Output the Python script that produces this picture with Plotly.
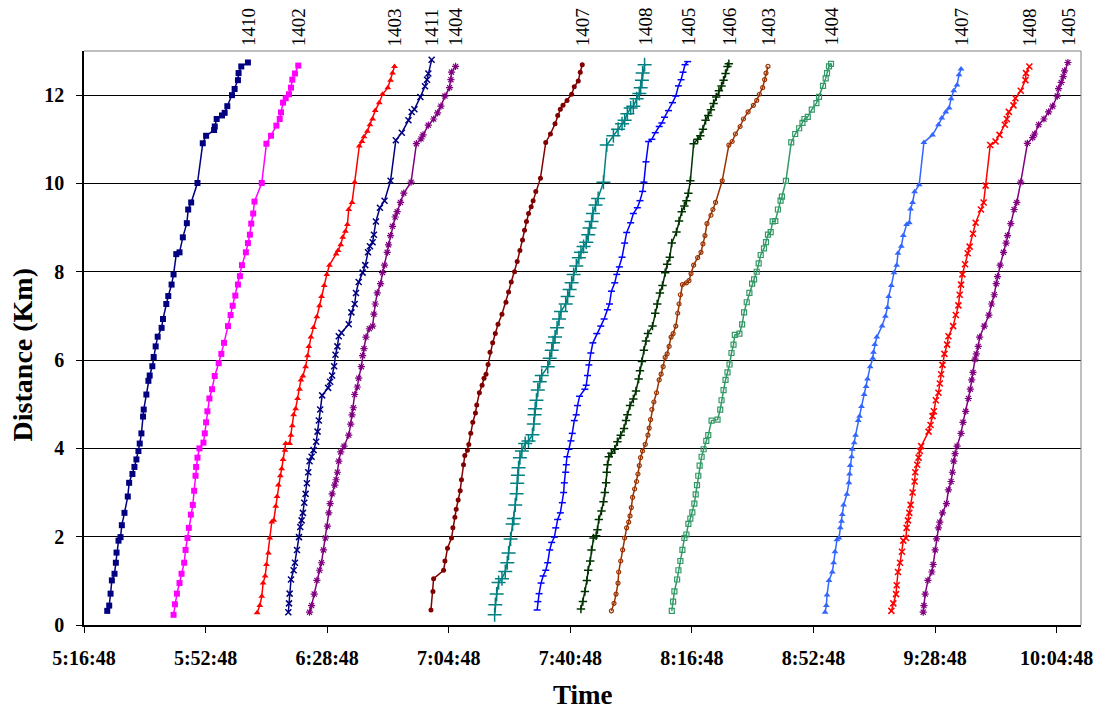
import datetime as dt
import plotly.graph_objects as go

# ---------------- data ----------------
tick_labels = ["5:16:48", "5:52:48", "6:28:48", "7:04:48", "7:40:48",
               "8:16:48", "8:52:48", "9:28:48", "10:04:48"]
x_range = ["5:16:48", "10:12:00"]

train_labels = ["1410", "1402", "1403", "1411", "1404", "1407", "1408",
                "1405", "1406", "1403", "1404", "1407", "1408", "1405"]

t_1410 = ["5:23:41","5:24:16","5:24:40","5:25:03","5:25:50","5:26:14","5:26:26","5:27:01","5:27:37","5:28:00",
          "5:28:47","5:29:46","5:30:10","5:31:08","5:31:44","5:32:19","5:32:55","5:33:18","5:33:48","5:34:17",
          "5:34:29","5:35:16","5:35:52","5:36:15","5:37:02","5:37:26","5:38:01","5:38:37","5:39:47","5:40:11",
          "5:41:10","5:41:45","5:42:44","5:43:19","5:44:07","5:45:05","5:46:04","5:47:15","5:47:39","5:48:32",
          "5:50:24","5:51:58","5:52:57","5:55:19","5:55:31","5:56:05","5:57:40","5:58:27","5:59:14","6:00:37",
          "6:01:24","6:02:23","6:02:34","6:03:22","6:05:20"]
d_1410 = [0.32,0.44,0.71,1.01,1.16,1.41,1.64,1.91,1.99,2.26,2.54,2.91,3.22,3.42,3.58,3.75,3.94,4.11,4.34,4.72,
          4.88,5.22,5.53,5.65,5.86,6.07,6.31,6.53,6.73,6.93,7.27,7.45,7.71,7.94,8.40,8.44,8.78,9.10,9.41,9.57,
          10.01,10.91,11.08,11.21,11.29,11.46,11.54,11.60,11.75,12.00,12.14,12.34,12.50,12.65,12.74]

t_1402 = ["5:43:19","5:43:43","5:44:19","5:45:05","5:45:41","5:46:28","5:46:52","5:47:27","5:47:50","5:48:26",
          "5:49:01","5:49:25","5:49:49","5:50:00","5:50:24","5:50:59","5:52:10","5:52:34","5:52:57","5:53:20",
          "5:53:56","5:54:43","5:55:30","5:56:41","5:57:28","5:58:16","5:59:26","6:00:13","6:00:49","6:01:36",
          "6:02:23","6:02:58","6:03:34","6:04:44","6:05:20","6:05:55","6:06:19","6:06:54","6:07:17","6:09:26",
          "6:10:49","6:12:11","6:13:46","6:14:45","6:15:08","6:15:44","6:16:31","6:17:30","6:18:05","6:18:29",
          "6:19:16","6:20:15"]
d_1402 = [0.23,0.47,0.71,0.95,1.16,1.41,1.70,1.97,2.20,2.50,2.72,3.04,3.38,3.58,3.79,4.00,4.13,4.34,4.59,4.84,
          5.13,5.34,5.64,5.93,6.14,6.39,6.77,7.02,7.23,7.46,7.71,7.90,8.15,8.44,8.65,8.84,9.09,9.32,9.59,10.01,
          10.90,11.08,11.31,11.46,11.61,11.83,11.93,12.02,12.17,12.35,12.49,12.67]

t_1403a = ["6:08:04","6:08:51","6:09:26","6:09:50","6:10:26","6:10:49","6:11:25","6:11:48","6:12:23","6:12:59",
           "6:13:34","6:13:58","6:14:21","6:14:56","6:15:20","6:15:44","6:16:19","6:16:31","6:17:41","6:18:05",
           "6:18:29","6:18:52","6:19:28","6:20:03","6:20:38","6:21:02","6:21:37","6:22:25","6:23:00","6:23:23",
           "6:23:59","6:24:46","6:25:45","6:26:32","6:27:08","6:27:55","6:28:42","6:29:29","6:31:27","6:32:02",
           "6:32:49","6:33:25","6:34:12","6:34:47","6:35:11","6:36:10","6:36:57","6:38:19","6:39:07","6:39:42",
           "6:40:41","6:41:28","6:42:15","6:43:02","6:44:13","6:45:12","6:46:46","6:47:34","6:48:09","6:48:44"]
d_1403a = [0.28,0.44,0.65,0.95,1.11,1.37,1.63,1.97,2.33,2.37,2.69,2.91,3.17,3.38,3.54,3.75,3.96,4.11,4.11,4.30,
           4.51,4.76,4.90,5.13,5.34,5.55,5.64,5.85,6.10,6.31,6.52,6.74,6.98,7.23,7.44,7.69,7.94,8.15,8.40,8.48,
           8.61,8.78,8.92,9.07,9.41,9.57,10.03,10.85,10.95,11.06,11.18,11.33,11.46,11.65,11.83,12.02,12.17,12.34,12.50,12.65]

t_1411 = ["6:17:18","6:17:30","6:17:41","6:18:05","6:18:52","6:19:16","6:19:52","6:20:27","6:20:50","6:21:14",
          "6:21:37","6:22:01","6:22:25","6:22:48","6:23:12","6:23:35","6:24:11","6:24:46","6:25:33","6:25:57",
          "6:26:20","6:26:44","6:27:19","6:29:05","6:29:41","6:30:16","6:30:52","6:31:15","6:31:50","6:32:14",
          "6:33:01","6:35:11","6:35:58","6:36:57","6:37:20","6:38:08","6:39:18","6:40:05","6:40:53","6:41:28",
          "6:42:15","6:42:38","6:43:14","6:44:25","6:45:47","6:47:34","6:49:08","6:50:54","6:52:52","6:53:50",
          "6:54:38","6:56:24","6:57:46","6:58:22","6:58:45","6:59:44"]
d_1411 = [0.29,0.49,0.71,1.03,1.24,1.41,1.70,1.99,2.22,2.37,2.54,2.77,2.97,3.21,3.46,3.71,3.81,3.96,4.15,4.38,
          4.63,4.88,5.20,5.37,5.51,5.65,5.86,6.12,6.31,6.54,6.62,6.81,7.08,7.27,7.52,7.77,7.98,8.15,8.44,8.58,
          8.67,8.84,9.14,9.45,9.61,10.06,10.98,11.15,11.43,11.62,11.68,11.96,12.20,12.35,12.49,12.80]

t_1404a = ["6:23:35","6:24:11","6:24:58","6:25:45","6:26:32","6:27:07","6:27:43","6:28:18","6:28:53","6:29:17",
           "6:29:41","6:30:16","6:31:03","6:31:27","6:31:50","6:32:14","6:32:49","6:33:48","6:35:11","6:35:46",
           "6:36:10","6:36:33","6:36:57","6:37:44","6:38:08","6:38:55","6:39:18","6:39:42","6:40:17","6:41:16",
           "6:42:15","6:42:38","6:43:02","6:43:38","6:44:37","6:45:12","6:45:47","6:46:35","6:46:58","6:47:34",
           "6:48:09","6:48:56","6:49:31","6:50:30","6:51:29","6:53:39","6:55:13","6:56:35","6:57:11","6:58:45",
           "7:00:20","7:01:30","7:02:29","7:03:40","7:05:02","7:05:26","7:05:38","7:06:49"]
d_1404a = [0.29,0.44,0.70,1.01,1.24,1.41,1.70,1.97,2.24,2.54,2.75,2.97,3.17,3.29,3.46,3.71,3.92,4.05,4.30,4.55,
           4.76,4.92,5.22,5.39,5.59,5.85,6.10,6.26,6.52,6.71,6.77,7.04,7.27,7.52,7.73,7.98,8.15,8.44,8.61,8.82,
           9.03,9.24,9.36,9.57,9.78,10.03,10.90,11.01,11.10,11.32,11.46,11.60,11.75,11.98,12.17,12.35,12.52,12.65]

t_1407a = ["6:59:32","7:00:07","7:00:19","7:03:16","7:03:40","7:04:26","7:05:37","7:06:01","7:06:37","7:07:00",
           "7:07:35","7:08:11","7:08:34","7:09:10","7:09:33","7:10:20","7:10:44","7:11:19","7:11:55","7:12:42",
           "7:13:05","7:13:52","7:14:40","7:15:15","7:15:50","7:16:26","7:17:01","7:17:48","7:18:35","7:19:23",
           "7:20:33","7:21:44","7:22:31","7:23:18","7:24:17","7:25:04","7:25:52","7:26:38","7:27:14","7:27:49",
           "7:28:25","7:29:12","7:29:47","7:30:34","7:31:57","7:33:31","7:34:54","7:36:16","7:37:04","7:37:50",
           "7:38:38","7:39:49","7:41:11","7:41:58","7:43:09","7:43:44","7:44:20"]
d_1407a = [0.34,0.76,1.05,1.24,1.45,1.74,1.97,2.20,2.44,2.62,2.83,3.04,3.29,3.63,3.84,3.96,4.09,4.34,4.59,4.80,
           4.98,5.26,5.43,5.59,5.68,5.90,6.18,6.39,6.60,6.81,7.04,7.31,7.54,7.77,8.00,8.23,8.48,8.72,8.94,9.14,
           9.32,9.47,9.61,9.82,10.12,10.93,11.12,11.35,11.54,11.68,11.77,11.88,12.02,12.19,12.32,12.52,12.69]

t_1408a = ["7:18:23","7:18:35","7:18:59","7:19:34","7:20:33","7:21:32","7:22:08","7:22:31","7:23:07","7:23:42",
           "7:24:05","7:24:29","7:24:53","7:25:04","7:25:16","7:25:28","7:25:52","7:26:27","7:27:26","7:28:25",
           "7:29:35","7:29:59","7:30:11","7:30:23","7:30:46","7:31:10","7:31:45","7:32:20","7:34:07","7:34:42",
           "7:35:17","7:35:41","7:36:16","7:36:52","7:37:27","7:38:02","7:39:25","7:40:00","7:40:35","7:41:11",
           "7:41:46","7:42:34","7:43:20","7:43:56","7:44:43","7:45:31","7:46:06","7:46:29","7:47:05","7:47:28",
           "7:48:16","7:49:02","7:50:36","7:51:35","7:53:33","7:54:56","7:56:07","7:56:53","7:57:41","7:58:40",
           "7:59:27","8:00:26","8:01:13","8:01:37","8:02:00","8:02:12","8:02:47"]
d_1408a = [0.23,0.46,0.70,0.96,1.05,1.21,1.41,1.63,1.95,2.29,2.41,2.72,2.97,3.21,3.39,3.56,3.79,3.94,4.11,4.17,
           4.31,4.55,4.76,4.90,5.09,5.32,5.51,5.65,5.85,6.04,6.22,6.39,6.52,6.73,6.93,7.10,7.27,7.44,7.60,7.75,
           7.94,8.13,8.32,8.44,8.57,8.67,8.84,8.99,9.14,9.32,9.51,9.66,10.03,10.87,11.08,11.23,11.35,11.43,11.58,11.71,
           11.75,11.92,12.04,12.17,12.34,12.50,12.69]

t_1405a = ["7:30:58","7:31:10","7:31:33","7:32:08","7:32:44","7:33:31","7:34:06","7:34:41","7:35:17","7:36:04",
           "7:36:28","7:37:03","7:37:50","7:38:26","7:38:49","7:39:01","7:39:25","7:39:36","7:39:48","7:40:23",
           "7:40:59","7:41:22","7:41:58","7:42:33","7:42:56","7:43:32","7:45:06","7:45:30","7:45:53","7:46:17",
           "7:46:52","7:47:28","7:48:38","7:49:49","7:50:48","7:51:47","7:52:23","7:52:58","7:53:57","7:54:32",
           "7:55:19","7:56:07","7:56:53","7:57:29","7:58:40","7:59:27","8:00:38","8:01:25","8:02:12","8:02:35",
           "8:03:11","8:03:58","8:04:57","8:05:56","8:07:07","8:07:54","8:08:41","8:09:52","8:11:02","8:12:01",
           "8:12:48","8:13:35","8:14:10","8:14:46","8:15:33"]
d_1405a = [0.34,0.53,0.71,0.95,1.11,1.24,1.41,1.70,1.87,1.99,2.20,2.39,2.54,2.77,3.00,3.22,3.46,3.63,3.81,3.98,
           4.17,4.34,4.63,4.76,4.97,5.18,5.34,5.43,5.65,5.89,6.16,6.39,6.60,6.77,6.93,7.14,7.27,7.56,7.75,7.94,
           8.11,8.33,8.65,8.89,9.11,9.32,9.45,9.61,9.82,10.03,10.49,10.95,11.00,11.15,11.29,11.37,11.50,11.65,11.83,11.98,
           12.21,12.35,12.52,12.69,12.76]

t_1406 = ["7:43:56","7:44:31","7:45:07","7:45:42","7:46:05","7:46:41","7:47:04","7:47:40","7:48:27","7:48:50",
          "7:49:14","7:50:01","7:50:37","7:51:00","7:51:23","7:51:35","7:51:47","7:52:11","7:52:58","7:53:57",
          "7:54:44","7:55:43","7:56:42","7:57:17","7:57:41","7:58:28","7:59:27","8:00:14","8:01:01","8:01:25",
          "8:02:00","8:02:35","8:03:11","8:03:46","8:05:08","8:05:56","8:06:31","8:07:19","8:08:05","8:08:53",
          "8:09:28","8:10:15","8:10:50","8:12:13","8:12:59","8:13:47","8:14:34","8:15:10","8:15:45","8:16:20",
          "8:17:19","8:18:30","8:19:17","8:20:04","8:20:51","8:21:38","8:22:25","8:23:13","8:24:00","8:24:47",
          "8:25:34","8:26:10","8:26:45","8:27:20","8:27:44"]
d_1406 = [0.36,0.53,0.76,1.01,1.24,1.45,1.70,1.97,2.02,2.16,2.39,2.58,2.79,3.00,3.22,3.46,3.63,3.81,3.89,3.98,
          4.15,4.30,4.45,4.63,4.76,4.97,5.12,5.30,5.57,5.76,5.97,6.22,6.43,6.60,6.77,7.06,7.27,7.52,7.69,7.98,
          8.17,8.33,8.65,8.90,9.15,9.36,9.49,9.61,9.78,10.06,10.90,11.00,11.08,11.23,11.43,11.54,11.67,11.81,11.96,12.10,
          12.21,12.34,12.49,12.65,12.71]

t_1403b = ["7:52:58","7:53:44","7:54:20","7:54:55","7:55:07","7:55:43","7:56:18","7:56:53","7:57:28","7:58:04",
           "7:58:28","7:58:51","7:59:14","7:59:50","8:00:25","8:00:49","8:01:13","8:01:36","8:02:11","8:02:59",
           "8:03:46","8:04:09","8:04:33","8:04:56","8:05:32","8:06:19","8:07:06","8:07:41","8:08:17","8:08:52",
           "8:09:28","8:10:03","8:10:38","8:11:14","8:12:01","8:12:36","8:12:59","8:13:23","8:13:59","8:15:10",
           "8:15:56","8:16:32","8:17:19","8:18:30","8:19:29","8:20:04","8:20:40","8:21:15","8:22:26","8:23:01",
           "8:23:48","8:25:46","8:27:44","8:28:43","8:29:41","8:31:04","8:32:03","8:33:26","8:35:00","8:35:59",
           "8:36:46","8:37:45","8:38:20","8:38:44","8:39:19"]
d_1403b = [0.32,0.49,0.70,0.95,1.20,1.45,1.70,1.97,2.20,2.33,2.47,2.66,2.89,3.08,3.25,3.42,3.61,3.79,3.94,4.09,
           4.30,4.46,4.65,4.88,5.05,5.26,5.55,5.68,5.85,6.06,6.14,6.31,6.52,6.60,6.77,7.06,7.27,7.48,7.71,7.75,
           7.80,7.96,8.15,8.32,8.44,8.63,8.82,9.09,9.28,9.41,9.57,10.06,10.87,10.95,11.12,11.29,11.46,11.62,11.77,11.88,
           12.02,12.17,12.35,12.50,12.65]

t_1404b = ["8:10:50","8:11:14","8:11:37","8:12:25","8:12:48","8:13:23","8:13:59","8:14:34","8:15:10","8:15:45",
           "8:16:20","8:16:55","8:17:31","8:17:55","8:18:18","8:18:41","8:19:05","8:19:40","8:20:16","8:21:03",
           "8:21:38","8:22:37","8:24:23","8:25:11","8:25:34","8:26:10","8:26:45","8:27:20","8:27:56","8:28:31",
           "8:29:07","8:29:30","8:30:52","8:31:40","8:32:15","8:33:02","8:33:49","8:34:37","8:35:12","8:35:59",
           "8:36:34","8:37:10","8:38:08","8:38:44","8:39:19","8:40:07","8:40:42","8:41:29","8:42:16","8:43:03",
           "8:43:27","8:44:38","8:46:12","8:47:23","8:48:33","8:49:32","8:50:07","8:51:06","8:52:17","8:53:39",
           "8:54:26","8:55:37","8:56:24","8:56:48","8:57:23","8:57:59"]
d_1404b = [0.32,0.53,0.76,1.03,1.24,1.45,1.70,1.97,2.05,2.29,2.41,2.55,2.75,2.96,3.17,3.38,3.61,3.81,3.98,4.17,
           4.30,4.63,4.65,4.88,5.09,5.32,5.55,5.72,5.90,6.16,6.35,6.57,6.60,6.81,7.08,7.31,7.52,7.73,7.83,8.00,
           8.19,8.38,8.53,8.67,8.84,8.90,9.14,9.15,9.41,9.61,9.70,10.06,10.93,11.12,11.25,11.37,11.46,11.51,11.67,11.82,
           11.96,12.21,12.38,12.50,12.65,12.71]

t_1407b = ["8:56:13","8:56:36","8:56:48","8:57:23","8:58:22","8:58:46","8:59:09","8:59:44","9:00:20","9:00:44",
           "9:01:07","9:01:19","9:01:43","9:02:41","9:03:17","9:03:29","9:03:40","9:04:04","9:04:16","9:04:51",
           "9:05:15","9:06:02","9:06:25","9:07:01","9:07:48","9:08:23","9:08:47","9:09:34","9:10:21","9:10:33",
           "9:10:56","9:11:32","9:13:06","9:14:05","9:14:41","9:15:04","9:15:51","9:16:38","9:17:26","9:17:49",
           "9:18:48","9:19:23","9:20:22","9:21:10","9:21:33","9:22:08","9:22:44","9:24:06","9:25:29","9:28:02",
           "9:29:48","9:30:47","9:31:58","9:32:57","9:33:32","9:34:19","9:35:18","9:35:53","9:36:29"]
d_1407b = [0.29,0.44,0.68,1.01,1.20,1.41,1.66,1.93,1.97,2.20,2.35,2.50,2.72,2.96,3.22,3.42,3.61,3.81,3.98,4.13,
           4.30,4.63,4.73,4.95,5.22,5.40,5.57,5.85,6.04,6.18,6.35,6.52,6.77,6.99,7.19,7.44,7.69,7.98,8.15,8.42,
           8.58,8.82,9.07,9.11,9.42,9.57,9.81,9.97,10.93,11.10,11.33,11.48,11.62,11.71,11.92,12.10,12.23,12.46,12.59]

t_1408b = ["9:15:51","9:16:26","9:17:14","9:17:26","9:17:49","9:18:25","9:19:00","9:19:23","9:20:11","9:20:22",
           "9:20:46","9:21:10","9:21:33","9:22:08","9:22:44","9:22:56","9:23:31","9:23:55","9:24:18","9:24:41",
           "9:26:52","9:27:27","9:28:02","9:28:26","9:29:01","9:29:48","9:30:12","9:30:35","9:30:59","9:31:34",
           "9:32:22","9:32:45","9:34:08","9:34:55","9:35:42","9:36:05","9:36:29","9:36:53","9:37:40","9:38:27",
           "9:39:02","9:40:01","9:40:48","9:42:23","9:43:10","9:43:45","9:45:08","9:46:42","9:47:53","9:49:27",
           "9:50:02","9:50:38","9:52:00","9:52:35","9:54:10","9:55:32","9:55:44","9:56:43"]
d_1408b = [0.32,0.49,0.70,0.90,1.20,1.41,1.66,1.91,1.97,2.20,2.37,2.54,2.72,3.00,3.25,3.46,3.63,3.79,3.94,4.05,
           4.38,4.53,4.73,4.84,5.09,5.26,5.47,5.68,5.89,6.14,6.35,6.54,6.77,7.02,7.24,7.48,7.71,7.94,8.17,8.42,
           8.57,8.86,9.11,9.41,9.57,9.95,10.87,10.95,11.10,11.33,11.46,11.62,11.77,11.93,12.10,12.34,12.50,12.65]

t_1405b = ["9:25:17","9:25:29","9:25:52","9:26:40","9:27:50","9:28:14","9:28:49","9:29:13","9:29:48","9:30:12",
           "9:30:59","9:32:10","9:32:45","9:33:32","9:33:56","9:34:19","9:34:43","9:35:18","9:36:29","9:37:04",
           "9:37:52","9:38:39","9:39:14","9:39:38","9:40:01","9:40:37","9:41:00","9:41:35","9:41:59","9:43:22",
           "9:44:44","9:45:31","9:46:19","9:46:54","9:47:17","9:48:04","9:49:04","9:49:50","9:50:14","9:51:13",
           "9:52:12","9:52:59","9:54:10","9:56:08","9:57:42","9:58:17","9:59:28","10:01:02","10:02:25","10:03:36",
           "10:04:58","10:05:22","10:06:09","10:06:44","10:07:08","10:08:07"]
d_1405b = [0.29,0.44,0.70,1.01,1.20,1.37,1.70,1.95,2.20,2.33,2.54,2.75,3.06,3.25,3.46,3.71,3.88,4.05,4.34,4.59,
           4.84,5.13,5.34,5.55,5.72,6.02,6.14,6.31,6.52,6.77,7.02,7.27,7.48,7.73,7.89,8.15,8.44,8.65,8.82,9.09,
           9.41,9.57,10.03,10.91,11.04,11.12,11.33,11.46,11.62,11.75,11.98,12.15,12.29,12.42,12.55,12.74]

all_times = [t_1410, t_1402, t_1403a, t_1411, t_1404a, t_1407a, t_1408a,
             t_1405a, t_1406, t_1403b, t_1404b, t_1407b, t_1408b, t_1405b]
all_dist = [d_1410, d_1402, d_1403a, d_1411, d_1404a, d_1407a, d_1408a,
            d_1405a, d_1406, d_1403b, d_1404b, d_1407b, d_1408b, d_1405b]

# ---------------- styles ----------------
colors = ["#000080", "#FF00FF", "#FF0000", "#000080", "#800080", "#800000", "#008080",
          "#0000FF", "#003300", "#993300", "#339966", "#3366FF", "#FF0000", "#800080"]
symbols = ["square", "square", "triangle-up", "x-thin-open", "asterisk-open", "circle",
           "cross-thin-open", "line-ew-open", "cross-thin-open", "circle-open", "square-open",
           "triangle-up", "x-thin-open", "asterisk-open"]
sizes = [6, 6, 6, 6, 6, 5, 10, 5, 6, 4, 5, 6, 6, 6]
marker_widths = [0, 0, 0, 1.5, 1.2, 0, 1.5, 1.5, 1.5, 1.2, 1.2, 0, 1.6, 1.2]


def to_dt(ts):
    out = []
    for s in ts:
        h, m, sec = (int(v) for v in s.split(":"))
        out.append(dt.datetime(2000, 1, 1, h, m, sec))
    return out


SERIF = "Liberation Serif, Times New Roman, serif"

fig = go.Figure()
annotations = []
for i, (ts, ds) in enumerate(zip(all_times, all_dist)):
    n = min(len(ts), len(ds))
    xs = to_dt(ts[:n])
    ys = ds[:n]
    fig.add_trace(go.Scatter(
        x=xs, y=ys, mode="lines+markers", showlegend=False,
        line=dict(color=colors[i], width=1.5),
        marker=dict(symbol=symbols[i], size=sizes[i], color=colors[i],
                    line=dict(color=colors[i], width=marker_widths[i])),
        cliponaxis=False,
    ))
    annotations.append(dict(
        x=xs[-1], y=1, xref="x", yref="paper", text=train_labels[i],
        textangle=-90, showarrow=False, xanchor="center", yanchor="bottom",
        yshift=3, font=dict(family=SERIF, size=19, color="#000000"),
    ))

annotations.append(dict(
    x=0.5, y=-0.122, xref="paper", yref="paper", text="Time", showarrow=False,
    xanchor="center", yanchor="middle",
    font=dict(family=SERIF, size=27, color="#000000", weight="bold"),
))
annotations.append(dict(
    x=-0.062, y=0.47, xref="paper", yref="paper", text="Distance (Km)", showarrow=False,
    textangle=-90, xanchor="center", yanchor="middle",
    font=dict(family=SERIF, size=28, color="#000000", weight="bold"),
))

tickvals = to_dt(tick_labels)
xr = to_dt(x_range)

fig.update_layout(
    width=1105, height=712,
    margin=dict(l=84, r=19, t=51, b=87),
    paper_bgcolor="#FFFFFF", plot_bgcolor="#FFFFFF",
    annotations=annotations,
    shapes=[
        dict(type="line", xref="paper", yref="paper", x0=0, x1=1, y0=1, y1=1,
             line=dict(color="#808080", width=1)),
        dict(type="line", xref="paper", yref="paper", x0=1, x1=1, y0=0, y1=1,
             line=dict(color="#808080", width=1)),
    ],
)
fig.update_xaxes(
    type="date", range=xr, tickmode="array", tickvals=tickvals, ticktext=tick_labels,
    showgrid=False, zeroline=False, showline=True, linecolor="#000000", linewidth=1.5,
    ticks="outside", ticklen=6, tickcolor="#000000", tickwidth=1,
    ticklabelstandoff=8,
    tickfont=dict(family=SERIF, size=20, color="#000000", weight="bold"),
)
fig.update_yaxes(
    range=[0, 13], tickmode="array", tickvals=[0, 2, 4, 6, 8, 10, 12],
    showgrid=True, gridcolor="#000000", gridwidth=1, zeroline=False,
    showline=True, linecolor="#000000", linewidth=1.5,
    ticks="outside", ticklen=6, tickcolor="#000000", tickwidth=1,
    ticklabelstandoff=8,
    tickfont=dict(family=SERIF, size=20, color="#000000", weight="bold"),
)

fig.write_html("out.html")
